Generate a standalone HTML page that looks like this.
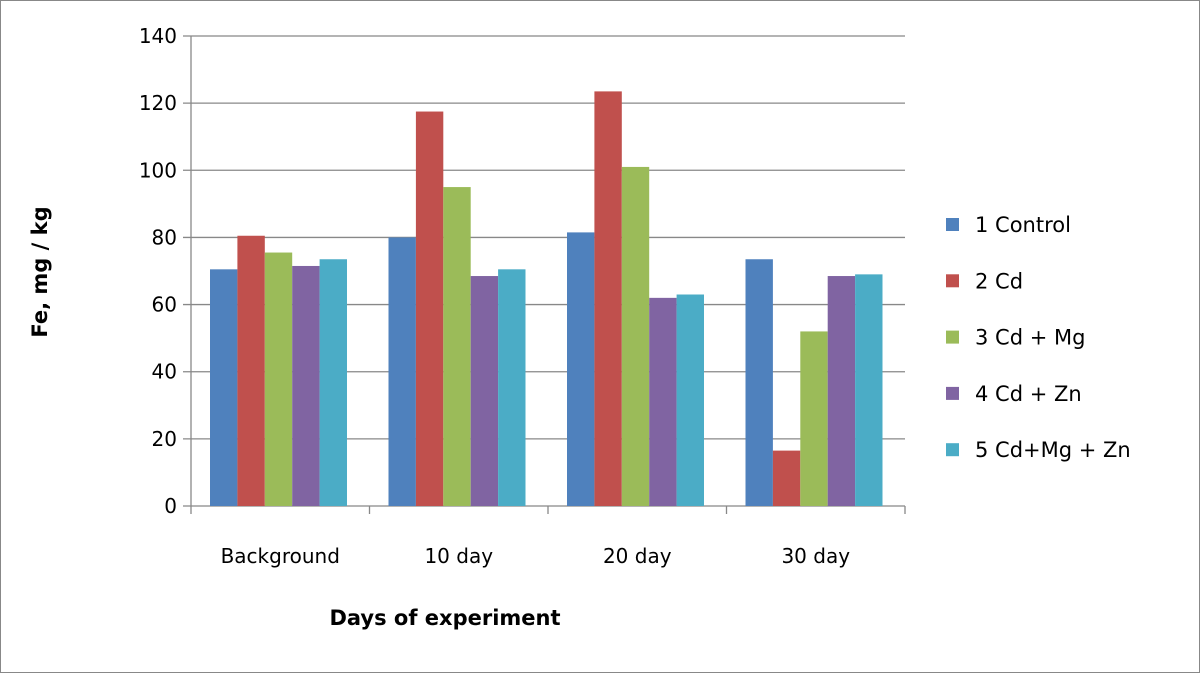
<!DOCTYPE html>
<html><head><meta charset="utf-8"><style>
body{margin:0;background:#fff}
svg text{font-family:"DejaVu Sans","Liberation Sans",sans-serif;fill:#000}
</style></head><body>
<svg width="1200" height="673" viewBox="0 0 1200 673">
<rect x="0.5" y="0.5" width="1199" height="672" fill="#fff" stroke="#888"/>
<g id="grid"></g><g id="bars"></g><g id="axes"></g><g id="legend"></g>
<text x="445" y="625" text-anchor="middle" font-size="21" font-weight="bold">Days of experiment</text>
<text transform="translate(47,272) rotate(-90)" text-anchor="middle" font-size="21" font-weight="bold">Fe, mg / kg</text>
</svg>
<script>
const categories=["Background","10 day","20 day","30 day"];
const seriesNames=["1 Control","2 Cd","3 Cd + Mg","4 Cd + Zn","5 Cd+Mg + Zn"];
const s1=[70.5,80,81.5,73.5];
const s2=[80.5,117.5,123.5,16.5];
const s3=[75.5,95,101,52];
const s4=[71.5,68.5,62,68.5];
const s5=[73.5,70.5,63,69];
const yTicks=[0,20,40,60,80,100,120,140];
const colors=["#4f81bd","#c0504d","#9bbb59","#8064a2","#4bacc6"];
const series=[s1,s2,s3,s4,s5];
const NS="http://www.w3.org/2000/svg";
const x0=191,x1=905,y0=506,yTop=36,yMax=140;
const cw=(x1-x0)/categories.length,bw=27.4,gap=19;
const y=v=>y0-(v/yMax)*(y0-yTop);
function mk(t,a,p){const e=document.createElementNS(NS,t);for(const k in a)e.setAttribute(k,a[k]);p.appendChild(e);return e;}
const grid=document.getElementById('grid'),bars=document.getElementById('bars'),axes=document.getElementById('axes'),legend=document.getElementById('legend');
yTicks.forEach(v=>{
 const l=mk('line',{x1:x0-8,x2:x1,y1:y(v),y2:y(v),stroke:'#888','stroke-width':1.3},grid);
 
 
 const t=mk('text',{x:x0-14,y:y(v)+7,'text-anchor':'end','font-size':20},axes);t.textContent=v;
 
 
});
mk('line',{x1:x0,x2:x0,y1:yTop,y2:y0,stroke:'#888','stroke-width':1.3},axes);
for(let i=0;i<=categories.length;i++){mk('line',{x1:x0+i*cw,x2:x0+i*cw,y1:y0,y2:y0+8,stroke:'#888','stroke-width':1.3},axes);}
categories.forEach((c,i)=>{
 const t=mk('text',{x:x0+i*cw+cw/2,y:563,'text-anchor':'middle','font-size':20},axes);t.textContent=c;
 
 
 series.forEach((s,j)=>{
  const r=mk('rect',{x:x0+i*cw+gap+j*bw,y:y(s[i]),width:bw,height:y0-y(s[i]),fill:colors[j]},bars);
  
  
 });
});
seriesNames.forEach((n,j)=>{
 const yy=224+j*56.3;
 const g=mk('g',{},legend);
 
 
 mk('rect',{x:946,y:yy-6,width:13,height:13,fill:colors[j]},g);
 const t=mk('text',{x:975,y:yy+8,'font-size':21},g);t.textContent=n;
});
</script>
</body></html>
